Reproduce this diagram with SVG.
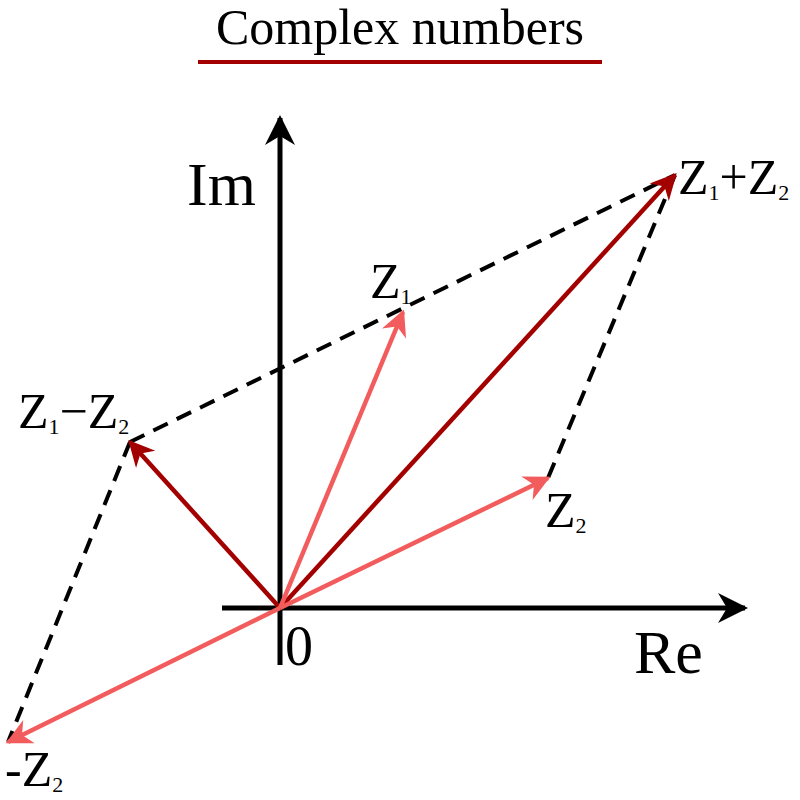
<svg xmlns="http://www.w3.org/2000/svg" width="800" height="800" viewBox="0 0 800 800">
<style>
text{font-family:"Liberation Serif","DejaVu Serif",serif;fill:#000}
.ax{stroke:#000;stroke-width:5}
.d{stroke:#000;stroke-width:4;stroke-dasharray:16,10;fill:none}
.dk{stroke:#a30000;stroke-width:4.5}
.lt{stroke:#f25c5c;stroke-width:4.5}
.s{font-size:22px}
</style>
<defs>
<marker id="ad" viewBox="0 0 10 10" refX="9" refY="5" markerWidth="36" markerHeight="26" markerUnits="userSpaceOnUse" orient="auto"><path d="M0,0 L10,5 L0,10 L3,5 Z" fill="#a30000"/></marker>
<marker id="al" viewBox="0 0 10 10" refX="9" refY="5" markerWidth="36" markerHeight="26" markerUnits="userSpaceOnUse" orient="auto"><path d="M0,0 L10,5 L0,10 L3,5 Z" fill="#f25c5c"/></marker>
<marker id="ak" viewBox="0 0 10 10" refX="9" refY="5" markerWidth="44" markerHeight="30" markerUnits="userSpaceOnUse" orient="auto"><path d="M0,0 L10,5 L0,10 L3,5 Z" fill="#000"/></marker>
</defs>
<g id="title"><text x="400" y="44" font-size="50" text-anchor="middle">Complex numbers</text>
<line x1="198" y1="62" x2="602" y2="62" stroke="#a30000" stroke-width="4"/></g>
<g id="connectors">
<line class="d" x1="130" y1="442" x2="675" y2="175"/>
<line class="d" x1="675" y1="175" x2="548" y2="478"/>
<line class="d" x1="130" y1="442" x2="8" y2="742"/>
<line class="ax" x1="280" y1="665" x2="280" y2="118" marker-end="url(#ak)"/>
<line class="ax" x1="222" y1="608" x2="745" y2="608" marker-end="url(#ak)"/>
<line class="dk" x1="280" y1="608" x2="675" y2="175" marker-end="url(#ad)"/>
<line class="dk" x1="280" y1="608" x2="130" y2="442" marker-end="url(#ad)"/>
<line class="lt" x1="280" y1="608" x2="403" y2="312" marker-end="url(#al)"/>
<line class="lt" x1="280" y1="608" x2="548" y2="478" marker-end="url(#al)"/>
<line class="lt" x1="280" y1="608" x2="8" y2="742" marker-end="url(#al)"/>
</g>
<g id="labels" font-size="50">
<text x="187" y="205" font-size="62">Im</text>
<text x="634" y="673" font-size="62">Re</text>
<text x="285" y="665" font-size="56">0</text>
<text x="370" y="298">Z<tspan class="s" dy="6">1</tspan></text>
<text x="545" y="527">Z<tspan class="s" dy="6">2</tspan></text>
<text x="678" y="194">Z<tspan class="s" dy="6">1</tspan><tspan dy="-6">+Z</tspan><tspan class="s" dy="6">2</tspan></text>
<text x="18" y="428">Z<tspan class="s" dy="6">1</tspan><tspan dy="-6">−Z</tspan><tspan class="s" dy="6">2</tspan></text>
<text x="5" y="786">-Z<tspan class="s" dy="6">2</tspan></text>
</g>
</svg>
